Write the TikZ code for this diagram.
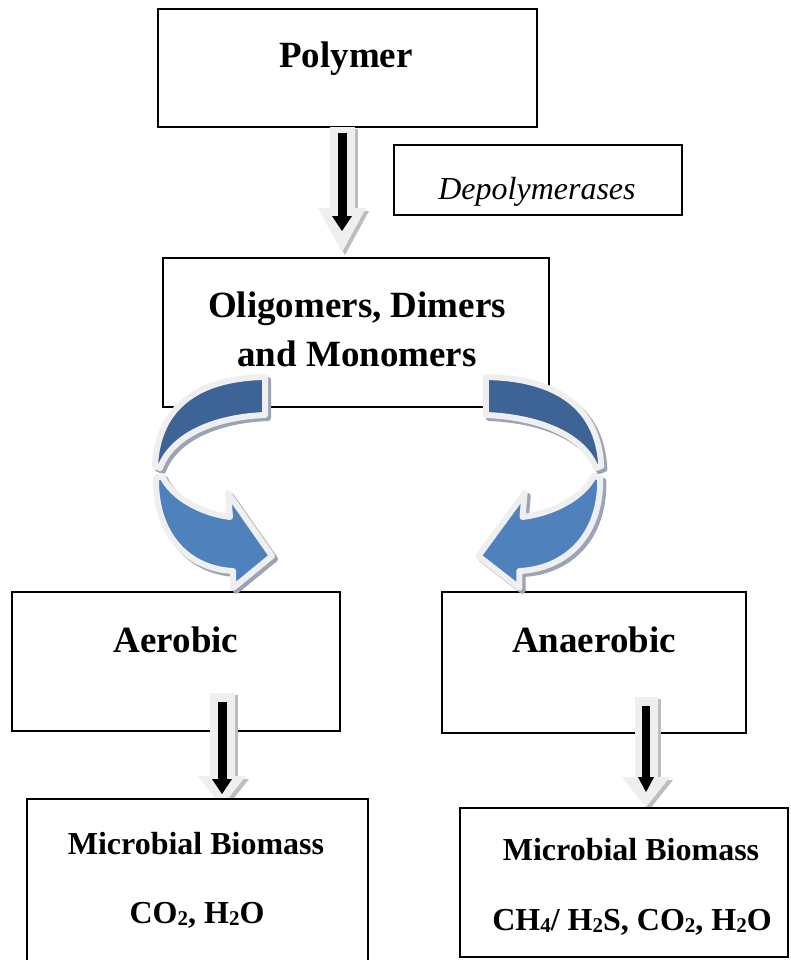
\documentclass[tikz,border=0pt]{standalone}
\usepackage{fontspec}
\setmainfont{Liberation Serif}
\usetikzlibrary{arrows.meta,calc}
\definecolor{ribdark}{HTML}{3E6497}
\definecolor{riblight}{HTML}{4F81BD}
\definecolor{ribedge}{HTML}{EFEFEF}
\definecolor{ribshade}{HTML}{9AA4B6}
\definecolor{arrfill}{HTML}{EFEFEF}
\definecolor{arrshade}{HTML}{BDBDBD}

% small digit set just below the baseline, as in the formulas
\newcommand{\chemsub}[1]{\raisebox{-0.08em}{\fontsize{21}{21}\selectfont #1}}

% curved ribbon arrow, drawn for the left side; #1 = x offset of its shadow
\newcommand{\ribbonarrow}[1]{%
  % back face
  \filldraw[fill=ribshade,draw=ribshade,line width=6pt,line join=round,shift={(#1,3)}]
    (265,377) .. controls (200,378) and (158,405) .. (155,466) -- (160,468)
    .. controls (172,435) and (215,417) .. (265,415) -- cycle;
  \filldraw[fill=ribdark,draw=ribedge,line width=6pt,line join=round]
    (265,377) .. controls (200,378) and (158,405) .. (155,466) -- (160,468)
    .. controls (172,435) and (215,417) .. (265,415) -- cycle;
  % front face with head
  \filldraw[fill=ribshade,draw=ribshade,line width=6pt,line join=round,shift={(#1,3)}]
    (156,478) .. controls (155,537) and (190,569) .. (233,571) -- (233,588) -- (272,556)
    -- (228,493) -- (230,517) .. controls (200,513) and (172,497) .. (162,476) -- cycle;
  \filldraw[fill=riblight,draw=ribedge,line width=6pt,line join=round]
    (156,478) .. controls (155,537) and (190,569) .. (233,571) -- (233,588) -- (272,556)
    -- (228,493) -- (230,517) .. controls (200,513) and (172,497) .. (162,476) -- cycle;
}

\begin{document}
\begin{tikzpicture}[x=1pt,y=-1pt,
    stagebox/.style={draw,line width=1.8pt,fill=white,inner sep=0pt},
    bigtxt/.style={font=\fontsize{37}{44}\selectfont\bfseries,inner sep=0pt,anchor=base},
    smalltxt/.style={font=\fontsize{32}{38}\selectfont\bfseries,inner sep=0pt,anchor=base},
    enztxt/.style={font=\fontsize{32}{38}\selectfont\itshape,inner sep=0pt,anchor=base},
    outerarr/.style={line width=25pt,draw=arrfill,-{Triangle[length=#1,width=48pt,line width=0pt]}},
    outerarr/.default=30pt,
    shadearr/.style={outerarr=#1,draw=arrshade},
    shadearr/.default=30pt,
    innerarr/.style={line width=9pt,draw=black,-{Triangle[length=15pt,width=#1,line width=0pt]}},
    innerarr/.default=20pt]
  \useasboundingbox (0,0) rectangle (791,960);
  % Top: polymer, enzyme label, breakdown products
  \node[stagebox,minimum width=379pt,minimum height=118pt] (poly) at (347.5,68) {};
  \node[stagebox,minimum width=288pt,minimum height=70pt] (depol) at (538,180) {};
  \node[stagebox,minimum width=386pt,minimum height=149pt] (olig) at (356,332.5) {};
  % Polymer -> oligomers
  \coordinate (d1) at (342,127);
  \draw[shadearr=44pt] ($(d1)+(3,2)$) -- ($(d1 |- olig.north)+(3,-2)$);
  \draw[outerarr=44pt] (d1) -- ($(d1 |- olig.north)+(0,-5)$);
  \draw[innerarr] ($(d1)+(0,6)$) -- ($(d1 |- olig.north)+(0,-26)$);
  % Middle row: the two pathways
  \node[stagebox,minimum width=328pt,minimum height=139pt] (aero) at (176,661.5) {};
  \node[stagebox,minimum width=304pt,minimum height=141pt] (anaero) at (594,662.5) {};
  % Curved ribbons from the products to each pathway
  \ribbonarrow{3}
  \begin{scope}[xshift=764pt,xscale=-1.05]
    \ribbonarrow{-3}
  \end{scope}
  % Pathway -> end products
  \coordinate (d2) at (222,693);
  \coordinate (d3) at (646,697);
  \node[stagebox,minimum width=341pt,minimum height=171pt] (bio1) at (197.5,884.5) {};
  \node[stagebox,minimum width=328pt,minimum height=149pt] (bio2) at (624,882.5) {};
  \draw[shadearr] ($(d2)+(3,2)$) -- ($(d2 |- bio1.north)+(3,11)$);
  \draw[outerarr] (d2) -- ($(d2 |- bio1.north)+(0,8)$);
  \draw[innerarr] ($(d2)+(0,9)$) -- ($(d2 |- bio1.north)+(0,-4)$);
  \draw[shadearr,line width=23pt] ($(d3)+(3,2)$) -- ($(d3 |- bio2.north)+(3,3)$);
  \draw[outerarr,line width=23pt] (d3) -- (d3 |- bio2.north);
  \draw[innerarr=16pt,line width=7.5pt] ($(d3)+(0,9)$) -- ($(d3 |- bio2.north)+(0,-15)$);
  % redraw the end-product boxes over the arrow tips
  \node[stagebox,minimum width=341pt,minimum height=171pt] at (bio1) {};
  \node[stagebox,minimum width=328pt,minimum height=149pt] at (bio2) {};
  % Labels
  \node[bigtxt] (polytxt) at (346,68) {Polymer};
  \node[enztxt] (depoltxt) at (537,199) {Depolymerases};
  \node[bigtxt] (oligtxta) at (357,317) {Oligomers, Dimers};
  \node[bigtxt] (oligtxtb) at (357,366) {and Monomers};
  \node[bigtxt] (aerotxt) at (176,652) {Aerobic};
  \node[bigtxt] (anaerotxt) at (594,652) {Anaerobic};
  \node[smalltxt] (bio1txta) at (196,854) {Microbial Biomass};
  \node[smalltxt] (bio1txtb) at (197,923) {CO\chemsub{2}, H\chemsub{2}O};
  \node[smalltxt] (bio2txta) at (631,860) {Microbial Biomass};
  \node[smalltxt] (bio2txtb) at (632,930) {CH\chemsub{4}/ H\chemsub{2}S, CO\chemsub{2}, H\chemsub{2}O};
\end{tikzpicture}
\end{document}
